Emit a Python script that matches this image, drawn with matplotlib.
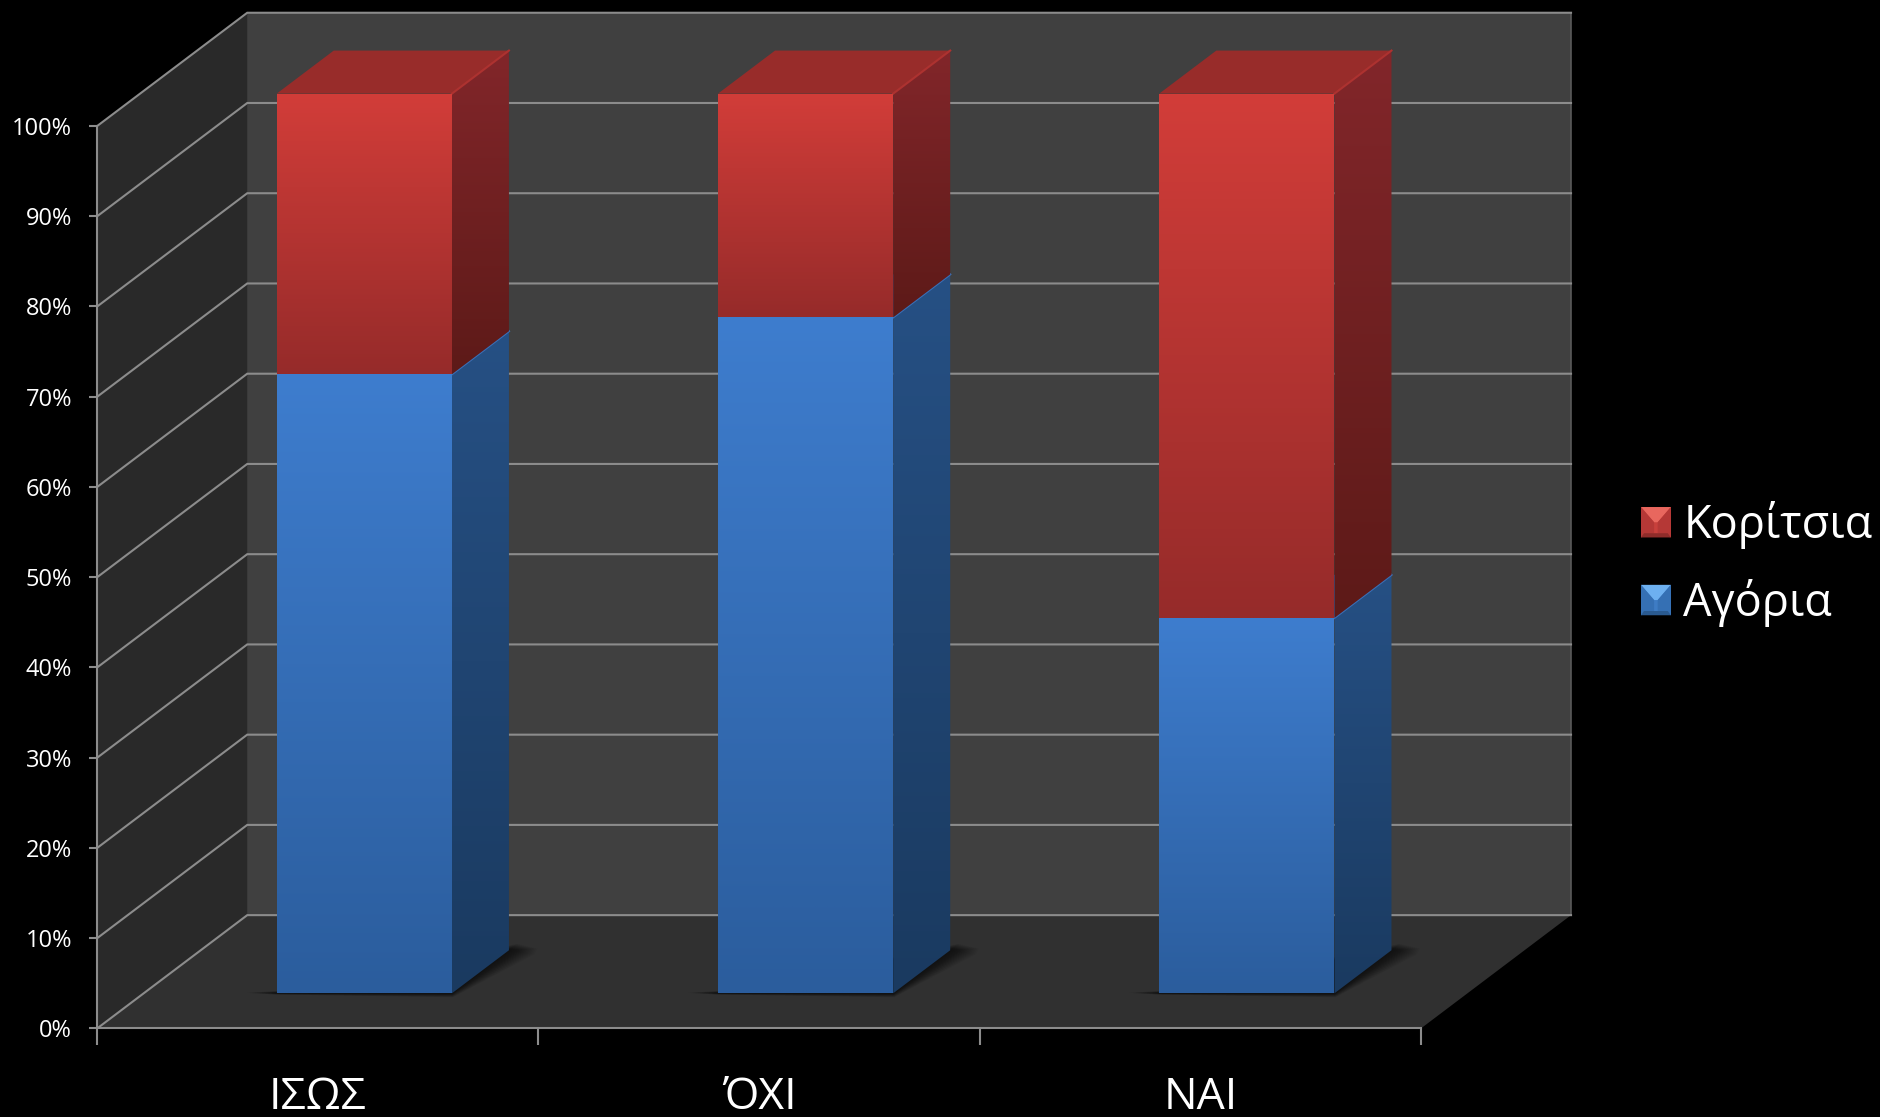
import matplotlib
matplotlib.use("Agg")
import matplotlib.pyplot as plt
import numpy as np
from matplotlib.colors import to_rgb
from matplotlib.legend_handler import HandlerBase
from matplotlib.patches import Polygon, Patch

plt.rcParams['font.family'] = ['Open Sans', 'DejaVu Sans']

categories = ['ΙΣΩΣ', 'ΌΧΙ', 'ΝΑΙ']
boys = [68.6, 74.9, 41.6]
girls = [31.1, 24.8, 58.1]
y_ticks = [0, 10, 20, 30, 40, 50, 60, 70, 80, 90, 100]
y_labels = ['0%', '10%', '20%', '30%', '40%', '50%', '60%', '70%', '80%', '90%', '100%']

# oblique depth of the box, in data units (d=1 is the back wall)
DEPTH_X = 0.340
DEPTH_Y = 12.55
BAR_W = 0.397
D0, D1 = 0.31, 0.69

GRID = '#8c8c8c'

BLUE = dict(front=('#3e7dce', '#2b5d9d'), side=('#265084', '#1a3a60'), top='#2f64a8', edge='#3a70b8')
RED = dict(front=('#d23d39', '#962b2a'), side=('#82262a', '#5d1a18'), top='#982c2a', edge='#ad3230')


def proj(x, y, d):
    return x + d * DEPTH_X, y + d * DEPTH_Y


def gradient_face(ax, pts, top, bottom, zorder):
    pts = np.array(pts)
    c0, c1 = np.array(to_rgb(top)), np.array(to_rgb(bottom))
    t = np.linspace(0, 1, 128)[:, None]
    img = (c0 * (1 - t) + c1 * t)[:, None, :]
    im = ax.imshow(img, extent=[pts[:, 0].min(), pts[:, 0].max(), pts[:, 1].min(), pts[:, 1].max()],
                   aspect='auto', origin='upper', interpolation='bilinear', zorder=zorder)
    # the box sticks out of the front plane, so no clipping to the axes
    im.set_clip_box(fig.bbox)
    im.set_clip_path(Polygon(pts, transform=ax.transData))


def draw_segment(ax, xc, y0, y1, style, zorder):
    xl, xr = xc - BAR_W / 2, xc + BAR_W / 2
    # side face
    side = [proj(xr, y0, D0), proj(xr, y0, D1), proj(xr, y1, D1), proj(xr, y1, D0)]
    gradient_face(ax, side, style['side'][0], style['side'][1], zorder)
    # top face
    ax.add_patch(Polygon([proj(xl, y1, D0), proj(xr, y1, D0), proj(xr, y1, D1), proj(xl, y1, D1)],
                         fc=style['top'], ec='none', zorder=zorder, clip_on=False))
    a, b = proj(xr, y1, D0), proj(xr, y1, D1)
    ax.plot([a[0], b[0]], [a[1], b[1]], color=style['edge'], lw=1.5, zorder=zorder + 0.05, clip_on=False)
    # front face
    front = [proj(xl, y0, D0), proj(xr, y0, D0), proj(xr, y1, D0), proj(xl, y1, D0)]
    gradient_face(ax, front, style['front'][0], style['front'][1], zorder + 0.1)


class BevelHandler(HandlerBase):
    # little bevelled square like the office legend keys
    def create_artists(self, legend, orig, xd, yd, w, h, fs, trans):
        light, mid, edge, dark = orig.bevel
        x0, y0 = -xd, -yd
        x1, y1 = x0 + w, y0 + h
        b = 0.44 * w
        cx0, cx1, cy0, cy1 = x0 + b, x1 - b, y0 + 0.14 * h, y1 - 0.5 * h
        faces = [
            ([(x0, y0), (x1, y0), (x1, y1), (x0, y1)], mid),
            ([(x0, y1), (x1, y1), (cx1, cy1), (cx0, cy1)], light),
            ([(x0, y0), (x0, y1), (cx0, cy1), (cx0, cy0)], edge),
            ([(x1, y0), (x1, y1), (cx1, cy1), (cx1, cy0)], edge),
            ([(x0, y0), (x1, y0), (x1 - 0.1 * w, y0 + 0.14 * h), (x0 + 0.1 * w, y0 + 0.14 * h)], dark),
        ]
        return [Polygon(p, fc=c, ec='none', transform=trans) for p, c in faces]


fig = plt.figure(figsize=(18.81, 11.17), dpi=100, facecolor='black')
ax = fig.add_axes([97.2 / 1881, 1 - 1028.4 / 1117, (1421 - 97.2) / 1881, (1028.4 - 126) / 1117])
ax.set_facecolor('none')

# walls
ax.add_patch(Polygon([proj(0, 0, 1), proj(3, 0, 1), proj(3, 100, 1), proj(0, 100, 1)],
                     fc='#404040', ec='none', zorder=1, clip_on=False))
ax.add_patch(Polygon([proj(0, 0, 0), proj(0, 0, 1), proj(0, 100, 1), proj(0, 100, 0)],
                     fc='#292929', ec='none', zorder=1, clip_on=False))
ax.add_patch(Polygon([proj(0, 0, 0), proj(3, 0, 0), proj(3, 0, 1), proj(0, 0, 1)],
                     fc='#303030', ec='none', zorder=1.5, clip_on=False))

# gridlines over the side wall and back wall
for v in y_ticks:
    xa, ya = proj(0, v, 0)
    xb, yb = proj(0, v, 1)
    xc, yc = proj(3, v, 1)
    ax.plot([xa, xb, xc], [ya, yb, yc], color=GRID, lw=1.5, zorder=2, clip_on=False,
            solid_joinstyle='miter')
xr0, yr0 = proj(3, 0, 1)
xr1, yr1 = proj(3, 100, 1)
ax.plot([xr0, xr1], [yr0, yr1], color='#5a5a5a', lw=1.2, zorder=1.8, clip_on=False)

# bars and their soft floor shadow
for i, name in enumerate(categories):
    xl, xr = i + 0.5 - BAR_W / 2, i + 0.5 + BAR_W / 2
    for e in np.linspace(0.07, 0.004, 18):
        shadow = [(xr, D1 + e * 0.8), (xr + e * 0.85, D1 + e * 0.2), (xr + e, D1 - e * 0.5),
                  (xr + e * 0.2, D0 - e * 0.5), (xl, D0 - e * 0.15), (xl - e, D0 + 0.004),
                  (xl, D0 + e * 0.3)]
        ax.add_patch(Polygon([proj(x, 0, d) for x, d in shadow], fc='black', ec='none',
                             alpha=0.04, zorder=3, clip_on=False))
    zb = 4 + i
    draw_segment(ax, i + 0.5, 0, boys[i], BLUE, zb)
    draw_segment(ax, i + 0.5, boys[i], boys[i] + girls[i], RED, zb + 0.4)

ax.set_xlim(0, 3)
ax.set_ylim(0, 100)

# real axes for the front edges
for s in ['top', 'right']:
    ax.spines[s].set_visible(False)
for s in ['left', 'bottom']:
    ax.spines[s].set_color(GRID)
    ax.spines[s].set_linewidth(1.5)
    ax.spines[s].set_zorder(8)

ax.set_yticks(y_ticks)
ax.set_yticklabels(y_labels, fontsize=17, color='white')
ax.tick_params(axis='y', length=6, width=1.5, color=GRID, pad=12)
ax.set_xticks([0, 1, 2, 3])
ax.set_xticklabels([])
ax.tick_params(axis='x', which='major', length=12, width=1.5, color=GRID)
ax.set_xticks([0.5, 1.5, 2.5], minor=True)
ax.set_xticklabels(categories, minor=True, fontsize=32, color='white')
ax.tick_params(axis='x', which='minor', length=0, pad=34)

# legend
h_girls = Patch(label='Κορίτσια')
h_girls.bevel = ('#e8675e', '#c8403c', '#b53836', '#8e2c2a')
h_boys = Patch(label='Αγόρια')
h_boys.bevel = ('#6db0f0', '#3e7cc4', '#3570b4', '#2a5a90')
leg = fig.legend(handles=[h_girls, h_boys], loc='center left', bbox_to_anchor=(1641 / 1881, 1 - 564 / 1117),
                 frameon=False, fontsize=32.5, labelcolor='white', handlelength=0.66, handleheight=0.66,
                 handletextpad=0.28, labelspacing=0.66, borderpad=0, borderaxespad=0,
                 handler_map={Patch: BevelHandler()})

fig.savefig('out.png', dpi=100, facecolor='black')
